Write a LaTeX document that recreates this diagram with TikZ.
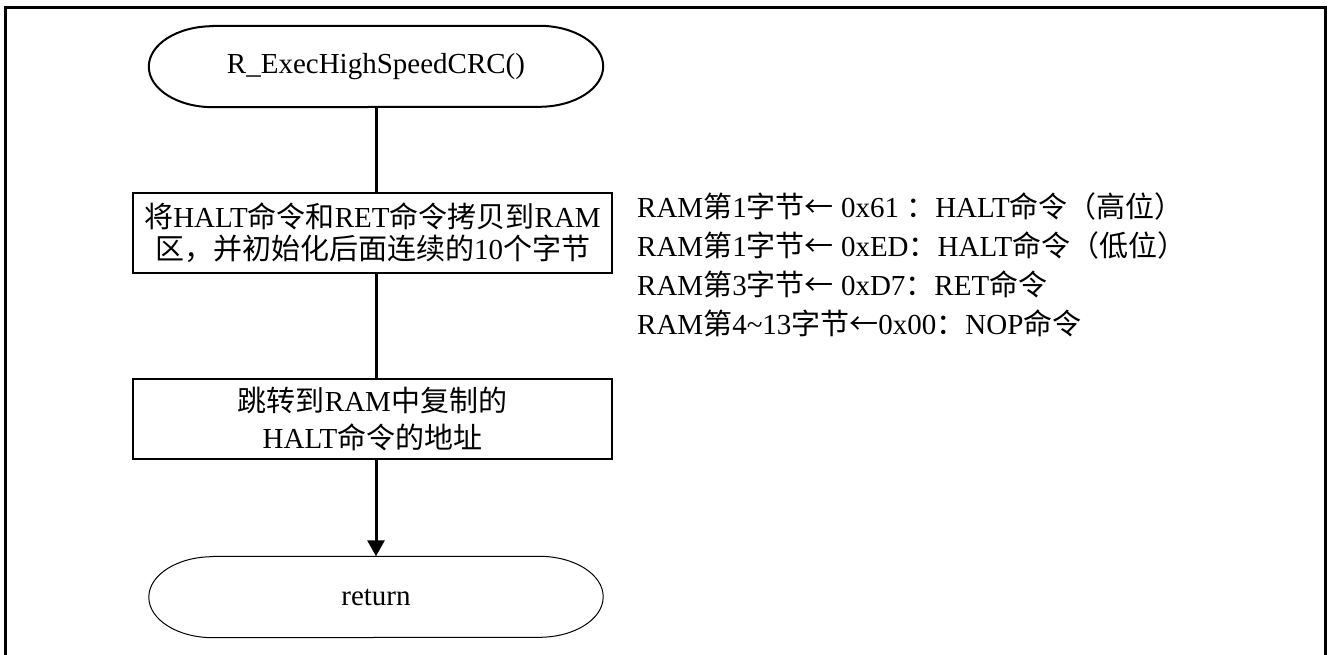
\documentclass[tikz,border=0pt]{standalone}
\usepackage{fontspec}
\setmainfont{Liberation Serif}
\newfontfamily\cjk{Noto Sans CJK SC}
\usetikzlibrary{arrows.meta}

% outline of a terminator: straight top and bottom, half-ellipse ends
\newcommand\terminatorpath[2]{%
  ([xshift=#2]#1.north west) -- ([xshift=-#2]#1.north east)
  arc[start angle=90,end angle=-90,x radius=#2,y radius=40.5]
  -- ([xshift=#2]#1.south west)
  arc[start angle=270,end angle=90,x radius=#2,y radius=40.5] -- cycle}

\tikzset{
  x=1pt, y=1pt,
  txt/.style={font=\fontsize{29}{37}\selectfont, inner sep=0pt},
  term/.style={txt, minimum width=454pt, minimum height=81pt},
  procbox/.style={txt, draw, line width=2pt, align=center,
    minimum width=479pt, minimum height=80pt},
  flow/.style={line width=3pt},
  note/.style={txt, anchor=base west},
}

\begin{document}
\begin{tikzpicture}
\useasboundingbox (0,0) rectangle (1328,655);

% outer frame, open at the bottom edge
\draw[line width=3pt] (5,-10) -- (5,647) -- (1325,647) -- (1325,-10);

% flowchart nodes
\node[term] (start) at (376,588.5) {R\_ExecHighSpeedCRC()};
\draw[line width=2pt] \terminatorpath{start}{64};

\node[procbox, font=\fontsize{29}{32}\selectfont] (copy) at (372.5,422)
  {{\cjk 将}HALT{\cjk 命令和}RET{\cjk 命令拷贝到}RAM\\
   {\cjk 区，并初始化后面连续的}10{\cjk 个字节}};

\node[procbox] (jump) at (372.5,235.5)
  {{\cjk 跳转到}RAM{\cjk 中复制的}\\HALT{\cjk 命令的地址}};

\node[term] (ret) at (376,58) {return};
\draw[line width=1pt] \terminatorpath{ret}{64};

% connectors
\draw[flow] (start.south) -- (start.south |- copy.north);
\draw[flow] (start.south |- copy.south) -- (start.south |- jump.north);
\draw[flow, -{Triangle[length=16pt,width=17pt]}]
  (start.south |- jump.south) -- (ret.north);

% notes on the bytes written to RAM
\node[note] (n1) at (637,437)
  {RAM{\cjk 第}1{\cjk 字节←} 0x61 {\cjk ：}HALT{\cjk 命令（高位）}};
\node[note] (n2) at (637,398)
  {RAM{\cjk 第}1{\cjk 字节←} 0xED{\cjk ：}HALT{\cjk 命令（低位）}};
\node[note] (n3) at (637,359)
  {RAM{\cjk 第}3{\cjk 字节←} 0xD7{\cjk ：}RET{\cjk 命令}};
\node[note] (n4) at (637,320)
  {RAM{\cjk 第}4\textasciitilde 13{\cjk 字节←}0x00{\cjk ：}NOP{\cjk 命令}};
\end{tikzpicture}
\end{document}
